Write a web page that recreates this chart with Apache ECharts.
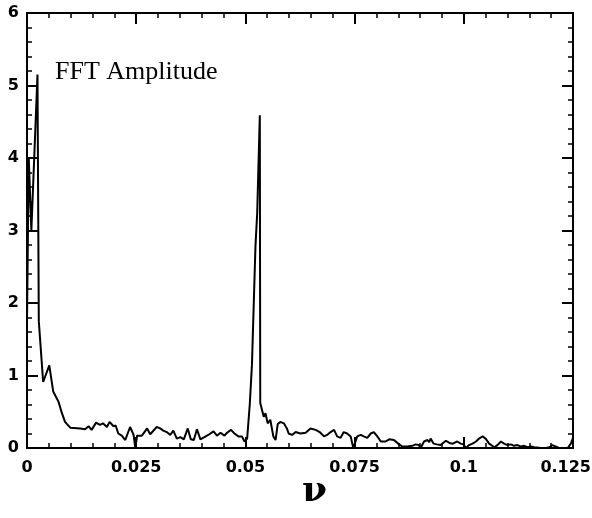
<!DOCTYPE html>
<html>
<head>
<meta charset="utf-8">
<script src="https://cdn.jsdelivr.net/npm/echarts@6/dist/echarts.min.js"></script>
<style>
  html, body { margin: 0; padding: 0; background: #fff; }
  #chart { width: 592px; height: 518px; }
</style>
</head>
<body>
<div id="chart"></div>
<script>
// frequency (nu) and FFT amplitude
const nu = [
  0, 0.0004, 0.0010, 0.0024, 0.0027, 0.0037, 0.0051, 0.0060, 0.0072, 0.0080,
  0.0087, 0.0099, 0.0122, 0.0133, 0.0141, 0.0148, 0.0158, 0.0167, 0.0174, 0.0183,
  0.0189, 0.0198, 0.0203, 0.0209, 0.0217, 0.0225, 0.0236, 0.0244, 0.0248, 0.0252,
  0.0263, 0.0275, 0.0282, 0.0297, 0.0305, 0.0312, 0.0320, 0.0328, 0.0335, 0.0343,
  0.0351, 0.0359, 0.0368, 0.0375, 0.0382, 0.0389, 0.0397, 0.0406, 0.0415, 0.0427,
  0.0435, 0.0443, 0.0452, 0.0458, 0.0467, 0.0475, 0.0484, 0.0492, 0.0498, 0.0504,
  0.0510, 0.0515, 0.0523, 0.0527, 0.0533, 0.0534, 0.0542, 0.0546, 0.0551, 0.0557,
  0.0564, 0.0569, 0.0574, 0.0580, 0.0588, 0.0595, 0.0599, 0.0607, 0.0615, 0.0626,
  0.0638, 0.0649, 0.0661, 0.0670, 0.0680, 0.0687, 0.0695, 0.0703, 0.0710, 0.0718,
  0.0725, 0.0733, 0.0741, 0.0747, 0.0756, 0.0764, 0.0771, 0.0779, 0.0787, 0.0794,
  0.0802, 0.0810, 0.0821, 0.0829, 0.0840, 0.0852, 0.0859, 0.0871, 0.0882, 0.0890,
  0.0897, 0.0901, 0.0909, 0.0913, 0.0917, 0.0921, 0.0924, 0.0931, 0.0938, 0.0947,
  0.0959, 0.0967, 0.0975, 0.0985, 0.0993, 0.0999, 0.1005, 0.1012, 0.1020, 0.1028,
  0.1035, 0.1043, 0.1050, 0.1058, 0.1070, 0.1077, 0.1085, 0.1092, 0.1100, 0.1108,
  0.1115, 0.1123, 0.1131, 0.1138, 0.1146, 0.1154, 0.1161, 0.1177, 0.1188, 0.1196,
  0.1203, 0.1211, 0.1218, 0.1229, 0.1238, 0.1245, 0.1250
]
const amp = [
  1.75, 4.00, 3.00, 5.15, 1.75, 0.91, 1.14, 0.78, 0.64, 0.48,
  0.36, 0.28, 0.27, 0.26, 0.30, 0.25, 0.35, 0.32, 0.34, 0.29,
  0.36, 0.30, 0.31, 0.20, 0.17, 0.11, 0.29, 0.18, 0.00, 0.17,
  0.17, 0.27, 0.19, 0.29, 0.27, 0.24, 0.22, 0.18, 0.24, 0.13,
  0.15, 0.12, 0.27, 0.12, 0.11, 0.26, 0.12, 0.15, 0.18, 0.23,
  0.17, 0.21, 0.17, 0.21, 0.25, 0.20, 0.16, 0.16, 0.09, 0.13,
  0.60, 1.15, 2.78, 3.24, 4.59, 0.62, 0.43, 0.48, 0.34, 0.39,
  0.16, 0.11, 0.33, 0.36, 0.34, 0.27, 0.20, 0.18, 0.22, 0.20,
  0.21, 0.27, 0.25, 0.22, 0.16, 0.18, 0.22, 0.25, 0.16, 0.14,
  0.22, 0.20, 0.16, 0.00, 0.16, 0.18, 0.16, 0.14, 0.20, 0.22,
  0.16, 0.09, 0.09, 0.12, 0.11, 0.05, 0.02, 0.02, 0.03, 0.05,
  0.04, 0.00, 0.09, 0.07, 0.11, 0.08, 0.13, 0.06, 0.05, 0.04,
  0.10, 0.07, 0.06, 0.09, 0.06, 0.05, 0.00, 0.04, 0.06, 0.09,
  0.13, 0.16, 0.13, 0.06, 0.01, 0.04, 0.09, 0.06, 0.04, 0.05,
  0.03, 0.04, 0.02, 0.03, 0.01, 0.02, 0.01, 0.00, 0.00, 0.01,
  0.04, 0.02, 0.00, 0.00, 0.00, 0.06, 0.14
]
const xTicks = { min: 0, max: 0.125, interval: 0.025 }
const yTicks = { min: 0, max: 6, interval: 1 }

let myChart = echarts.init(document.getElementById('chart'))

let labelFont = {
  color: '#000',
  fontFamily: 'DejaVu Sans',
  fontWeight: 'bold',
  fontSize: 16
}
let lineStyle = { color: '#000', width: 2 }

// common axis look: ticks pointing inward, minor ticks 5 per interval
function frameAxis(extra) {
  return Object.assign({
    type: 'value',
    axisLine: { show: true, onZero: false, lineStyle: lineStyle },
    axisTick: { show: true, inside: true, length: 11, lineStyle: { color: '#000', width: 2 } },
    minorTick: { show: true, splitNumber: 5, length: 5, lineStyle: { color: '#000', width: 1.5 } },
    splitLine: { show: false },
    minorSplitLine: { show: false }
  }, extra)
}

let option = {
  backgroundColor: '#fff',
  animation: false,
  grid: { left: 27, right: 19, top: 13, bottom: 70, outerBoundsMode: 'none' },
  title: {
    text: 'FFT Amplitude',
    left: 55,
    top: 59,
    padding: 0,
    textStyle: {
      fontFamily: 'Liberation Serif',
      fontWeight: 'normal',
      fontSize: 26,
      color: '#000'
    }
  },
  graphic: [
    {
      type: 'text',
      left: 302,
      top: 474,
      style: {
        text: 'ν',
        font: 'bold 36px "DejaVu Serif"',
        fill: '#000'
      }
    },
    // last tick label sits flush with the page edge, as in the original
    {
      type: 'text',
      right: 1,
      top: 460,
      style: {
        text: String(xTicks.max),
        font: 'bold 16px "DejaVu Sans"',
        fill: '#000'
      }
    }
  ],
  xAxis: [
    frameAxis({
      position: 'bottom',
      min: xTicks.min,
      max: xTicks.max,
      interval: xTicks.interval,
      axisLabel: Object.assign({ margin: 12, showMaxLabel: false }, labelFont)
    }),
    frameAxis({
      position: 'top',
      min: xTicks.min,
      max: xTicks.max,
      interval: xTicks.interval,
      axisLabel: { show: false }
    })
  ],
  yAxis: [
    frameAxis({
      position: 'left',
      min: yTicks.min,
      max: yTicks.max,
      interval: yTicks.interval,
      axisLabel: Object.assign({ margin: 8 }, labelFont)
    }),
    frameAxis({
      position: 'right',
      min: yTicks.min,
      max: yTicks.max,
      interval: yTicks.interval,
      axisLabel: { show: false }
    })
  ],
  series: [
    {
      name: 'FFT Amplitude',
      type: 'line',
      xAxisIndex: 0,
      yAxisIndex: 0,
      data: nu.map((v, i) => [v, amp[i]]),
      showSymbol: false,
      symbol: 'none',
      lineStyle: { color: '#000', width: 2 },
      clip: true
    }
  ]
}
myChart.setOption(option)
</script>
</body>
</html>
